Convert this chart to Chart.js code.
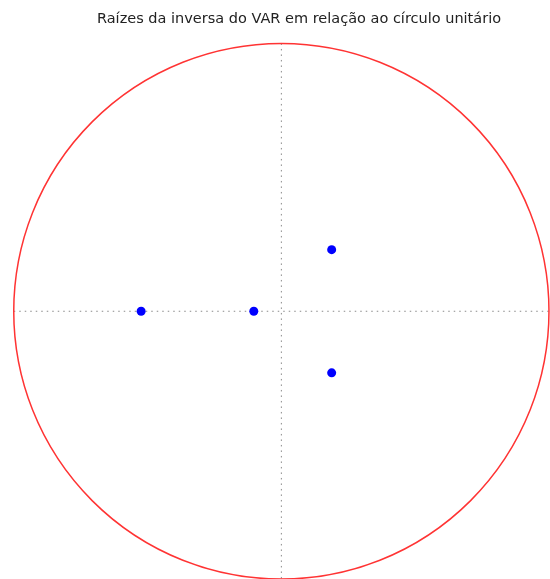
<!DOCTYPE html>
<html>
<head>
<meta charset="utf-8">
<script src="https://cdn.jsdelivr.net/npm/chart.js@4/dist/chart.umd.min.js"></script>
<style>
  html, body { margin: 0; padding: 0; background: #fff; overflow: hidden; }
  #wrap { width: 550px; height: 579px; }
</style>
</head>
<body>
<div id="wrap"><canvas id="roots-chart"></canvas></div>
<script>
// inverse roots of the VAR (real and imaginary parts)
const rootsReal = [-0.524, -0.103, 0.188, 0.188];
const rootsImag = [0, 0, 0.230, -0.230];
const chartTitle = 'Raízes da inversa do VAR em relação ao círculo unitário';

const ctx = document.getElementById('roots-chart').getContext('2d');

// unit circle + dotted axes, drawn through the chart scales
const unitCirclePlugin = {
  id: 'unitCircle',
  beforeDatasetsDraw(chart) {
    const x = chart.scales.x;
    const y = chart.scales.y;
    const c = chart.ctx;
    const cx = x.getPixelForValue(0);
    const cy = y.getPixelForValue(0);
    const rx = x.getPixelForValue(1) - cx;
    const ry = cy - y.getPixelForValue(1);

    c.save();
    // dotted crosshair
    c.strokeStyle = '#8a8a8a';
    c.lineWidth = 1;
    c.setLineDash([1.5, 4]);
    c.beginPath();
    c.moveTo(x.getPixelForValue(-1), cy);
    c.lineTo(x.getPixelForValue(1), cy);
    c.moveTo(cx, y.getPixelForValue(1));
    c.lineTo(cx, y.getPixelForValue(-1));
    c.stroke();

    // unit circle
    c.setLineDash([]);
    c.strokeStyle = '#ff3333';
    c.lineWidth = 1.5;
    c.beginPath();
    c.ellipse(cx, cy, rx, ry, 0, 0, Math.PI * 2);
    c.stroke();
    c.restore();
  }
};

let points = [];
for (let i = 0; i < rootsReal.length; i++) {
  points.push({ x: rootsReal[i], y: rootsImag[i] });
}

new Chart(ctx, {
  type: 'scatter',
  data: {
    datasets: [{
      label: 'Raízes',
      data: points,
      backgroundColor: '#0000ff',
      borderColor: '#0000ff',
      pointRadius: 4.5,
      pointHoverRadius: 4.5,
      borderWidth: 0
    }]
  },
  options: {
    responsive: true,
    maintainAspectRatio: false,
    animation: false,
    layout: { padding: { left: 48, right: 0, top: 0, bottom: 0 } },
    scales: {
      x: { type: 'linear', display: false, min: -0.872, max: 0.987 },
      y: { type: 'linear', display: false, min: -0.983, max: 1.0226 }
    },
    plugins: {
      legend: { display: false },
      tooltip: { enabled: false },
      title: {
        display: true,
        text: chartTitle,
        color: '#222',
        font: { family: 'DejaVu Sans', size: 14.5, weight: 'normal', lineHeight: 1.2 },
        padding: { top: 11, bottom: 9 }
      }
    }
  },
  plugins: [unitCirclePlugin]
});
</script>
</body>
</html>
